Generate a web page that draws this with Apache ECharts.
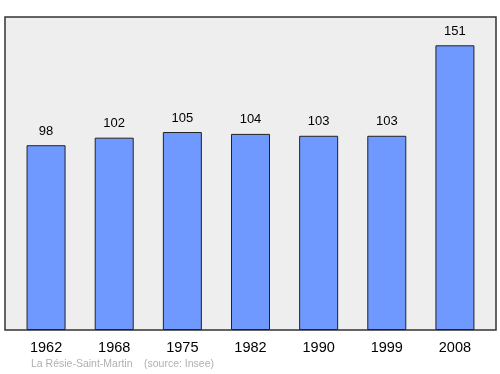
<!DOCTYPE html>
<html><head><meta charset="utf-8">
<script src="https://cdn.jsdelivr.net/npm/echarts@6/dist/echarts.min.js"></script>
<style>html,body{margin:0;padding:0;background:#fff}#c{width:500px;height:374px}</style>
</head><body><div id="c"></div>
<script>
var years = ['1962','1968','1975','1982','1990','1999','2008'];
var population = [98,102,105,104,103,103,151];
var sourceText = 'La Résie-Saint-Martin';
var sourceNote = '(source: Insee)';

var chart = echarts.init(document.getElementById('c'), null, {renderer:'canvas'});
chart.setOption({
  animation:false,
  textStyle:{fontFamily:'Liberation Sans, Arial, sans-serif'},
  grid:[
    {left:5,right:4,top:17,bottom:44,show:true,backgroundColor:'#eeeeee',borderColor:'#333',borderWidth:1.5},
    {left:12,right:11,top:17,bottom:44}
  ],
  xAxis:[
    {gridIndex:0,type:'value',show:false,min:0,max:1},
    {gridIndex:1,type:'category',data:years,axisLine:{show:false},axisTick:{show:false},
     axisLabel:{fontSize:14.5,color:'#000',margin:10}}
  ],
  yAxis:[
    {gridIndex:0,type:'value',show:false,min:0,max:1},
    {gridIndex:1,type:'value',min:0,max:166,show:false,splitLine:{show:false}}
  ],
  series:[{
    type:'bar',xAxisIndex:1,yAxisIndex:1,data:population,barWidth:39,
    itemStyle:{color:'#7099ff',borderColor:'#222',borderWidth:1},
    label:{show:true,position:'top',distance:7.5,fontSize:13,color:'#000'}
  }],
  graphic:[
    {type:'text',left:31,top:359,style:{text:sourceText,fontSize:10.5,fill:'#b0b0b0',fontFamily:'Liberation Sans, Arial, sans-serif'}},
    {type:'text',left:144,top:359,style:{text:sourceNote,fontSize:10.5,fill:'#b0b0b0',fontFamily:'Liberation Sans, Arial, sans-serif'}}
  ]
});
</script></body></html>
